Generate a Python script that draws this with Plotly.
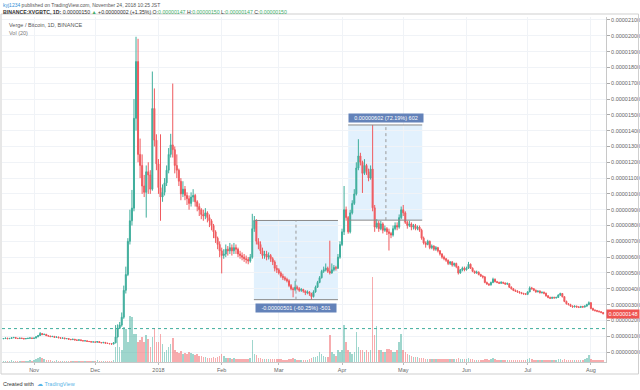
import plotly.graph_objects as go
import pandas as pd

# ---------------- data (satoshi units) ----------------
start_date = "2017-10-17"
first_open = 84

close_oct = [85, 88, 84, 86, 90, 92, 87, 85, 88, 86, 83, 85, 87, 89, 86]
high_oct = [87, 90, 89, 88, 92, 95, 93, 88, 90, 89, 87, 87, 89, 92, 90]
low_oct = [82, 83, 82, 83, 85, 88, 85, 83, 84, 84, 81, 82, 84, 86, 84]

close_nov = [88, 96, 104, 117, 110, 112, 103, 101, 97, 99, 93, 95, 90, 87, 89, 84, 85, 80, 78, 81, 76, 74, 77, 72, 70, 71, 67, 66, 63, 64]
high_nov = [91, 99, 108, 126, 119, 115, 113, 104, 102, 101, 100, 97, 96, 91, 91, 90, 87, 86, 82, 83, 82, 78, 79, 78, 73, 73, 72, 69, 67, 66]
low_nov = [84, 86, 94, 102, 107, 108, 101, 98, 95, 95, 91, 91, 88, 85, 86, 82, 82, 78, 76, 77, 74, 72, 72, 70, 68, 68, 65, 64, 61, 61]

close_dec = [62, 66, 60, 58, 61, 56, 54, 52, 50, 58, 95, 150, 170, 220, 390, 490, 700, 830, 910, 1478, 1837, 1250, 1180, 1050, 1010, 1140, 1120, 1030, 1540, 1340, 1190]
high_dec = [65, 68, 67, 62, 63, 62, 58, 56, 54, 62, 170, 175, 190, 250, 420, 540, 720, 900, 1025, 1600, 1994, 1981, 1350, 1250, 1120, 1180, 1200, 1150, 1774, 1667, 1377]
low_dec = [60, 60, 58, 56, 56, 54, 52, 50, 47, 49, 55, 92, 145, 160, 210, 370, 480, 680, 800, 890, 1400, 1200, 1100, 1000, 980, 850, 1000, 1000, 1020, 1300, 1150]

close_jan = [1040, 980, 1010, 1070, 1150, 1250, 1310, 1280, 1180, 1150, 1080, 1000, 1030, 990, 970, 940, 980, 990, 950, 920, 900, 870, 860, 880, 850, 830, 800, 760, 720, 680, 640]
high_jan = [1220, 1377, 1060, 1100, 1180, 1290, 1380, 1698, 1300, 1250, 1160, 1100, 1080, 1050, 1010, 990, 1010, 1030, 1000, 960, 940, 910, 900, 910, 890, 870, 840, 810, 770, 730, 700]
low_jan = [1000, 830, 950, 990, 1050, 1130, 1230, 1230, 1130, 1100, 1050, 960, 980, 960, 930, 900, 920, 950, 920, 890, 860, 840, 830, 840, 820, 790, 770, 720, 690, 650, 600]

close_feb = [610, 620, 650, 640, 660, 640, 660, 650, 620, 610, 600, 590, 585, 575, 600, 780, 832, 700, 680, 640, 610, 620, 600, 610, 590, 570, 530, 520]
high_feb = [660, 650, 680, 670, 690, 680, 690, 680, 660, 640, 630, 620, 610, 600, 620, 874, 860, 840, 720, 700, 660, 640, 640, 630, 620, 600, 580, 550]
low_feb = [497, 590, 600, 610, 620, 610, 620, 620, 600, 590, 580, 570, 560, 555, 565, 590, 760, 680, 650, 620, 590, 590, 580, 585, 570, 550, 510, 500]

close_mar = [500, 480, 470, 460, 450, 420, 400, 395, 410, 400, 390, 395, 385, 375, 380, 370, 350, 380, 410, 440, 470, 510, 520, 530, 510, 500, 520, 535, 530, 600, 680]
high_mar = [530, 510, 495, 480, 470, 460, 430, 410, 450, 420, 410, 405, 400, 390, 390, 385, 375, 390, 420, 450, 480, 520, 540, 560, 540, 704, 560, 550, 545, 620, 700]
low_mar = [490, 470, 455, 450, 440, 410, 390, 346, 385, 390, 380, 380, 375, 360, 365, 355, 331, 345, 375, 405, 435, 465, 500, 510, 500, 490, 495, 510, 515, 525, 590]

close_apr = [760, 900, 850, 760, 880, 940, 1000, 1164, 1240, 1200, 1130, 1180, 1140, 1100, 1157, 912, 790, 815, 780, 810, 770, 780, 760, 750, 740, 780, 800, 790, 850, 900]
high_apr = [780, 1050, 920, 860, 900, 960, 1030, 1200, 1346, 1260, 1210, 1220, 1190, 1160, 1180, 1436, 930, 840, 830, 830, 820, 800, 790, 780, 760, 800, 820, 820, 870, 920]
low_apr = [670, 740, 830, 748, 750, 870, 930, 990, 1150, 1180, 1006, 1120, 1120, 1080, 1090, 890, 760, 780, 760, 770, 750, 760, 740, 642, 720, 730, 770, 770, 780, 840]

close_may = [880, 820, 800, 810, 790, 800, 780, 790, 770, 720, 690, 680, 700, 660, 670, 650, 660, 640, 620, 600, 590, 580, 560, 570, 550, 560, 540, 500, 520, 530, 520]
high_may = [930, 890, 830, 830, 820, 810, 810, 800, 800, 780, 730, 700, 710, 705, 680, 675, 670, 665, 645, 625, 610, 595, 585, 575, 575, 565, 565, 545, 525, 540, 540]
low_may = [860, 810, 780, 790, 770, 775, 770, 770, 760, 710, 680, 660, 675, 650, 650, 640, 640, 630, 610, 590, 580, 570, 550, 550, 540, 540, 530, 490, 495, 510, 510]

close_jun = [530, 555, 530, 510, 500, 505, 490, 480, 475, 440, 430, 425, 440, 460, 445, 440, 435, 440, 436, 430, 432, 410, 400, 390, 385, 380, 375, 370, 368, 365]
high_jun = [540, 570, 560, 535, 515, 515, 510, 495, 485, 480, 445, 435, 445, 470, 465, 450, 445, 448, 445, 440, 440, 435, 415, 405, 395, 390, 385, 380, 375, 372]
low_jun = [515, 525, 525, 505, 495, 495, 485, 475, 465, 435, 425, 418, 420, 435, 440, 435, 430, 430, 430, 425, 425, 405, 395, 385, 380, 375, 370, 365, 362, 360]

close_jul = [380, 405, 400, 390, 380, 385, 375, 378, 372, 355, 345, 340, 345, 342, 345, 360, 370, 350, 320, 305, 300, 290, 285, 290, 285, 282, 288, 284, 290, 300, 312]
high_jul = [385, 415, 412, 405, 395, 390, 390, 382, 382, 375, 360, 350, 350, 350, 350, 365, 375, 372, 352, 325, 310, 305, 295, 295, 293, 290, 292, 292, 295, 305, 320]
low_jul = [360, 378, 395, 385, 375, 378, 370, 370, 365, 350, 340, 335, 335, 338, 338, 342, 355, 345, 315, 300, 295, 285, 280, 282, 280, 278, 280, 280, 282, 288, 296]

close_aug = [275, 265, 262, 258, 255, 250, 242]
high_aug = [315, 280, 270, 266, 262, 258, 253]
low_aug = [270, 260, 256, 252, 250, 245, 238]

vol_oct = [1.5, 1.5, 1.5, 1.5, 2, 1.5, 1.5, 1.5, 1.5, 1.5, 1.5, 1.5, 1.5, 2, 1.5]
vol_nov = [2, 3, 4, 5, 4, 3, 2, 2, 2, 1.5, 1.5, 2, 1.5, 1.5, 1.5, 1.5, 1.5, 1, 1, 1, 1, 1, 1, 1, 1, 1, 1, 1, 1, 1]
vol_dec = [1, 2, 1, 1, 1, 1, 1, 1, 1, 2, 15, 37, 15, 12, 35, 33, 20, 46, 45, 28, 28, 20, 22, 25, 20, 27, 23, 15, 25, 34, 20]
vol_jan = [20, 28, 18, 10, 12, 15, 18, 24, 12, 10, 9, 11, 8, 9, 8, 10, 9, 8, 7, 8, 6, 6, 5, 5, 4, 4, 4, 5, 4, 5, 6]
vol_feb = [8, 6, 4, 4, 4, 3, 4, 3, 3, 3, 3, 3, 3, 3, 4, 22, 8, 7, 4, 4, 3, 3, 3, 3, 3, 3, 3, 3]
vol_mar = [3, 3, 2, 2, 2, 3, 3, 4, 3, 2, 2, 2, 2, 2, 2, 3, 4, 5, 5, 6, 10, 8, 6, 5, 5, 27, 10, 8, 6, 12, 10]
vol_apr = [12, 37, 20, 12, 10, 8, 10, 30, 15, 12, 12, 10, 12, 10, 12, 85, 27, 36, 12, 12, 10, 10, 13, 13, 12, 10, 10, 12, 20, 28]
vol_may = [12, 10, 8, 7, 6, 5, 5, 5, 4, 4, 4, 3, 3, 3, 3, 3, 3, 3, 3, 3, 3, 3, 3, 3, 3, 3, 3, 4, 3, 3, 3]
vol_jun = [3, 4, 3, 3, 2, 2, 2, 2, 2, 3, 3, 2, 3, 4, 3, 2, 2, 2, 2, 2, 2, 2, 2, 2, 2, 2, 2, 2, 2, 2]
vol_jul = [3, 4, 3, 2, 2, 2, 2, 2, 2, 2, 2, 2, 2, 2, 2, 3, 3, 2, 3, 2, 2, 2, 2, 2, 2, 2, 2, 2, 3, 4, 7]
vol_aug = [3, 2, 2, 2, 2, 2, 2]

month_ticks = ["2017-11-01", "2017-12-01", "2018-01-01", "2018-02-01", "2018-03-01",
               "2018-04-01", "2018-05-01", "2018-06-01", "2018-07-01", "2018-08-01"]
month_labels = ["Nov", "Dec", "2018", "Feb", "Mar", "Apr", "May", "Jun", "Jul", "Aug"]
price_ticks = [0, 100, 200, 300, 400, 500, 600, 700, 800, 900, 1000, 1100, 1200,
               1300, 1400, 1500, 1600, 1700, 1800, 1900, 2000, 2100]
last_price = 148
label_price = 240
measure_down = dict(start="2018-02-16 19:00", end="2018-03-30 00:00", mid="2018-03-09 10:00",
                    top=832, bottom=331, text="-0.00000501 (-60.25%) -501")
measure_up = dict(start="2018-04-04 00:00", end="2018-05-10 07:00", mid="2018-04-22 12:00",
                  top=1436, bottom=834, text="0.00000602 (72.19%) 602")

# ---------------- assemble ----------------
close = close_oct + close_nov + close_dec + close_jan + close_feb + close_mar + close_apr + close_may + close_jun + close_jul + close_aug
high = high_oct + high_nov + high_dec + high_jan + high_feb + high_mar + high_apr + high_may + high_jun + high_jul + high_aug
low = low_oct + low_nov + low_dec + low_jan + low_feb + low_mar + low_apr + low_may + low_jun + low_jul + low_aug
vol = vol_oct + vol_nov + vol_dec + vol_jan + vol_feb + vol_mar + vol_apr + vol_may + vol_jun + vol_jul + vol_aug
opens = [first_open] + close[:-1]
dates = pd.date_range(start_date, periods=len(close), freq="D")

UP = "#3fae9c"
DOWN = "#ef5a5e"
UP_V = "rgba(63,174,156,0.5)"
DOWN_V = "rgba(239,90,94,0.5)"
vcol = [UP_V if c >= o else DOWN_V for o, c in zip(opens, close)]

W, H = 640, 390
def fx(p):
    return p / W
def fy(p):
    return 1 - p / H

FONT = "Liberation Sans"
FS = 5.5

fig = go.Figure()
fig.add_trace(go.Bar(x=dates, y=vol, marker=dict(color=vcol, line=dict(width=0)),
                     yaxis="y2", width=0.75 * 86400000, showlegend=False, hoverinfo="skip"))
fig.add_trace(go.Candlestick(x=dates, open=opens, high=high, low=low, close=close,
                             increasing=dict(line=dict(color=UP, width=1), fillcolor=UP),
                             decreasing=dict(line=dict(color=DOWN, width=1), fillcolor=DOWN),
                             whiskerwidth=0, showlegend=False, hoverinfo="skip"))

px_per_sat = 15.81 / 100
y_top = 352 - 17
y_bot = 352 - 362
fig.update_layout(
    width=W, height=H, margin=dict(l=0, r=0, t=0, b=0),
    paper_bgcolor="white", plot_bgcolor="white",
    font=dict(family=FONT, size=FS, color="#555"),
    bargap=0,
    xaxis=dict(domain=[fx(2), fx(606)], type="date",
               range=["2017-10-16 07:12", "2018-08-08 09:36"],
               tickvals=month_ticks, ticktext=month_labels,
               showgrid=True, gridcolor="#f0f3f7", gridwidth=1,
               ticks="outside", ticklen=2, tickcolor="#bbb",
               showline=True, linecolor="#c8c8c8", linewidth=1,
               tickfont=dict(size=FS, color="#666"),
               rangeslider=dict(visible=False), fixedrange=True, zeroline=False),
    yaxis=dict(domain=[fy(362), fy(17)], side="right",
               range=[y_bot / px_per_sat, y_top / px_per_sat],
               tickvals=price_ticks, ticktext=[f"{v / 1e8:.8f}" for v in price_ticks],
               showgrid=True, gridcolor="#f0f3f7", gridwidth=1,
               ticks="outside", ticklen=3, tickcolor="#aaa",
               showline=True, linecolor="#c8c8c8", linewidth=1, mirror=False,
               tickfont=dict(size=FS, color="#666"), zeroline=False, fixedrange=True),
    yaxis2=dict(domain=[fy(362), fy(17)], overlaying="y", range=[0, 345],
                visible=False, fixedrange=True),
)

shapes = []
annotations = []
# outer frame
shapes.append(dict(type="rect", xref="paper", yref="paper", x0=fx(1), x1=fx(638.5),
                   y0=fy(374), y1=fy(14), line=dict(color="#cfcfcf", width=1)))
# last price dotted line
shapes.append(dict(type="line", xref="paper", yref="y", x0=fx(2), x1=fx(606),
                   y0=last_price, y1=last_price, line=dict(color=UP, width=1, dash="dot")))

for m, below in ((measure_down, True), (measure_up, False)):
    shapes.append(dict(type="rect", xref="x", yref="y", x0=m["start"], x1=m["end"],
                       y0=m["bottom"], y1=m["top"], fillcolor="rgba(33,150,243,0.13)",
                       line=dict(width=0), layer="below"))
    for v in (m["bottom"], m["top"]):
        shapes.append(dict(type="line", xref="x", yref="y", x0=m["start"], x1=m["end"],
                           y0=v, y1=v, line=dict(color="#888", width=1)))
    shapes.append(dict(type="line", xref="x", yref="y", x0=m["mid"], x1=m["mid"],
                       y0=m["bottom"], y1=m["top"], line=dict(color="#999", width=1, dash="dot")))
    yl = m["bottom"] - 8 / px_per_sat if below else m["top"] + 7 / px_per_sat
    annotations.append(dict(xref="x", yref="y", x=m["mid"], y=yl, text=m["text"],
                            showarrow=False, bgcolor="#6382b9", font=dict(color="white", size=FS),
                            width=80 if below else 74, height=8, borderpad=0))

# red price label on the axis
annotations.append(dict(xref="paper", yref="y", x=fx(606), y=label_price, xanchor="left",
                        text="0.00000148", showarrow=False, bgcolor="#ef5350",
                        font=dict(color="white", size=FS), width=32, height=8, borderpad=0))

# header and legend texts
annotations.append(dict(xref="paper", yref="paper", x=fx(1), y=fy(5), xanchor="left", yanchor="middle",
                        showarrow=False, font=dict(size=5, color="#555"),
                        text="<span style='color:#2e8fd6'>kyj1234</span> published on TradingView.com, November 24, 2018 10:25 JST"))
G = "#3fae6a"
annotations.append(dict(xref="paper", yref="paper", x=fx(1), y=fy(12), xanchor="left", yanchor="middle",
                        showarrow=False, font=dict(size=5.2, color="#333"),
                        text=("<b>BINANCE:XVGBTC, 1D:</b> 0.00000150 "
                              f"<span style='color:{G}'>▲</span> +0.00000002 (+1.35%) "
                              f"O:<span style='color:{G}'>0.00000147</span> "
                              f"H:<span style='color:{G}'>0.00000150</span> "
                              f"L:<span style='color:{G}'>0.00000147</span> "
                              f"C:<span style='color:{G}'>0.00000150</span>")))
annotations.append(dict(xref="paper", yref="paper", x=fx(7), y=fy(25), xanchor="left", yanchor="middle",
                        showarrow=False, font=dict(size=FS, color="#555"),
                        text="Verge / Bitcoin, 1D, BINANCE"))
annotations.append(dict(xref="paper", yref="paper", x=fx(7), y=fy(33), xanchor="left", yanchor="middle",
                        showarrow=False, font=dict(size=FS, color="#777"), text="Vol (20)"))
annotations.append(dict(xref="paper", yref="paper", x=fx(1), y=fy(384), xanchor="left", yanchor="middle",
                        showarrow=False, font=dict(size=FS, color="#333"),
                        text="Created with  <span style='color:#5ab3e6'>☁</span> <span style='color:#5ab3e6'>TradingView</span>"))

fig.update_layout(shapes=shapes, annotations=annotations)
fig.write_html("out.html")
